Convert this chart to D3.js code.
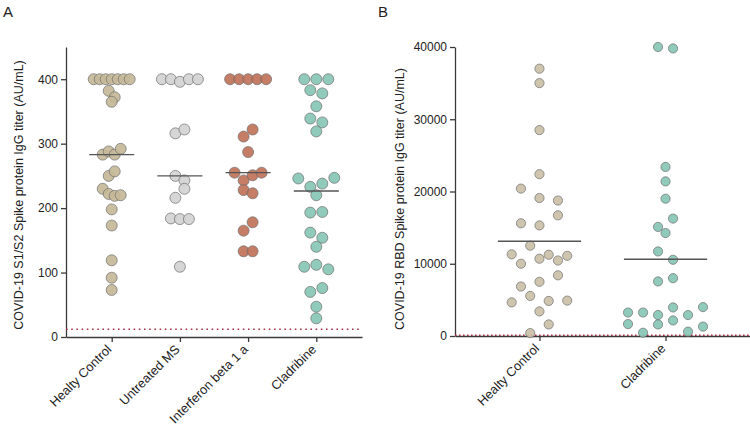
<!DOCTYPE html>
<html>
<head>
<meta charset="utf-8">
<script src="https://cdn.jsdelivr.net/npm/d3@7"></script>
<style>
  body { margin: 0; background: #fff; }
  text { font-family: Arial, "Liberation Sans", sans-serif; }
</style>
</head>
<body>
<div id="chart"></div>
<script>
// Panel A data (AU/mL), listed top to bottom, left to right
var groupsA = ['Healty Control', 'Untreated MS', 'Interferon beta 1 a', 'Cladribine'];
var healthyA = [400,400,400,400,400,400,400, 382,372, 365, 283,288,283,292, 250,257, 230,222,219,220, 198,173,119,92,73];
var untreatedA = [400,400,396,400,400, 316,322, 250,243, 216,230, 184,183,183, 109];
var interferonA = [400,400,400,400,400, 311,322, 287, 255,243,251,255, 228,223, 165,178, 133,133];
var cladribineA = [400,400,400, 383,378, 358, 339,333, 319, 246,233,238,247, 220, 193,194, 162,154, 140, 109,112,105, 70,76, 47, 29];
var ticksA = [0, 100, 200, 300, 400];
var cutoffA = 12;

// Panel B data (AU/mL)
var groupsB = ['Healty Control', 'Cladribine'];
var healthyB = [37000, 35000, 28500, 22400, 20400,19100,18750, 15600,15300,16700, 11300,12500,11250,11100, 10000,10700,10450, 6850,7500,8400, 4650,5550,4850,4900, 3400, 400,1600];
var cladribineB = [40000,39800, 23400, 21400, 19000, 15100,16250, 14250, 11700,10550, 7550,8000, 3250,3250,2900,3950,2900,4000, 1650,450,1600,2150,600,1300];
var ticksB = [0, 10000, 20000, 30000, 40000];
var cutoffB = 100;

var colorsA = ['#c6b898', '#d2d2d2', '#c07258', '#86c5b4'];
var colorsB = ['#cbc0a8', '#86c5b4'];

var svg = d3.select('#chart').append('svg')
  .attr('width', 750)
  .attr('height', 429);

//Prism-like scatter: bin points by height, spread each bin around the column centre
var swarm = function(vals, y, binH, maxW, maxStep) {
  var pts = vals.map(function(v, i) { return {v: v, i: i, py: y(v)}; });
  var sorted = pts.slice().sort(function(a, b) { return b.v - a.v || a.i - b.i; });
  var bins = [], cur = null;
  sorted.forEach(function(p) {
    if (cur && p.py - cur[0].py < binH) cur.push(p);
    else { cur = [p]; bins.push(cur); }
  });
  var maxN = d3.max(bins, function(b) { return b.length; });
  var step = maxN > 1 ? Math.min(maxStep, maxW / (maxN - 1)) : 0;
  bins.forEach(function(b) {
    b.sort(function(a, c) { return a.i - c.i; });
    b.forEach(function(p, k) { p.dx = (k - (b.length - 1) / 2) * step; });
  });
  return pts;
};

var drawPanel = function(o) {
  var x = d3.scalePoint().domain(o.groups).range([o.left, o.right]).padding(0.67);
  var y = d3.scaleLinear().domain([0, o.max]).range([o.bottom, o.top]);
  var g = svg.append('g');

  //Axes
  var yAxis = g.append('g')
    .attr('transform', 'translate(' + o.left + ',0)')
    .call(d3.axisLeft(y).tickValues(o.ticks).tickSize(5).tickSizeOuter(0).tickFormat(d3.format('d')));
  var xAxis = g.append('g')
    .attr('transform', 'translate(0,' + o.bottom + ')')
    .call(d3.axisBottom(x).tickSize(5).tickSizeOuter(0));
  [yAxis, xAxis].forEach(function(a) {
    a.select('.domain').attr('stroke', '#3a3a3a').attr('stroke-width', 1.3);
    a.selectAll('.tick line').attr('stroke', '#3a3a3a').attr('stroke-width', 1.3);
    a.selectAll('text').style('font-size', '12px').attr('fill', '#222');
  });
  yAxis.selectAll('text').attr('x', -8);
  xAxis.selectAll('text')
    .style('font-size', '12.8px')
    .style('text-anchor', 'end')
    .attr('y', 0)
    .attr('dy', '0.35em')
    .attr('transform', 'translate(-3,10) rotate(-45)');

  //Cut-off line
  g.append('line')
    .attr('x1', o.left).attr('x2', o.right)
    .attr('y1', y(o.cutoff)).attr('y2', y(o.cutoff))
    .attr('stroke', '#a8324a')
    .attr('stroke-width', 1.6)
    .attr('stroke-dasharray', o.dash);

  //Points
  o.series.forEach(function(vals, k) {
    var name = o.groups[k];
    var pts = swarm(vals, y, o.binH, o.spread, o.maxStep);
    g.selectAll('circle.s' + k)
      .data(pts)
      .enter().append('circle')
      .attr('class', 's' + k)
      .attr('cx', function(d) { return x(name) + d.dx; })
      .attr('cy', function(d) { return d.py; })
      .attr('r', o.r)
      .style('fill', o.colors[k])
      .style('fill-opacity', 0.92)
      .style('stroke', '#6e6e6e')
      .style('stroke-width', 0.7);

    //Centre line (median in A, mean in B)
    var c = o.centre(vals);
    var half = x.step() * 0.33;
    g.append('line')
      .attr('x1', x(name) - half).attr('x2', x(name) + half)
      .attr('y1', y(c)).attr('y2', y(c))
      .attr('stroke', '#555')
      .attr('stroke-width', 1.4);
  });

  //Axis title
  g.append('text')
    .attr('transform', 'translate(' + o.titleX + ',' + o.titleY + ') rotate(-90)')
    .attr('text-anchor', 'middle')
    .attr('dy', '0.35em')
    .style('font-size', '12.5px')
    .attr('fill', '#222')
    .text(o.title);

  //Panel letter
  g.append('text')
    .attr('x', o.letterX).attr('y', 17)
    .style('font-size', '15px')
    .attr('fill', '#222')
    .text(o.letter);
};

drawPanel({
  groups: groupsA, series: [healthyA, untreatedA, interferonA, cladribineA],
  colors: colorsA, ticks: ticksA, cutoff: cutoffA, max: 450,
  left: 66, right: 362, top: 47, bottom: 337,
  r: 5.5, binH: 10.5, spread: 36, maxStep: 12, dash: '1.6,3.6',
  centre: d3.median,
  title: 'COVID-19 S1/S2 Spike protein IgG titer (AU/mL)', titleX: 19, titleY: 195,
  letter: 'A', letterX: 3
});

drawPanel({
  groups: groupsB, series: [healthyB, cladribineB],
  colors: colorsB, ticks: ticksB, cutoff: cutoffB, max: 40000,
  left: 455, right: 750, top: 47, bottom: 336,
  r: 4.6, binH: 12.5, spread: 75, maxStep: 18.5, dash: '1.6,2.4',
  centre: d3.mean,
  title: 'COVID-19 RBD Spike protein IgG titer (AU/mL)', titleX: 400, titleY: 199,
  letter: 'B', letterX: 378
});
</script>
</body>
</html>
